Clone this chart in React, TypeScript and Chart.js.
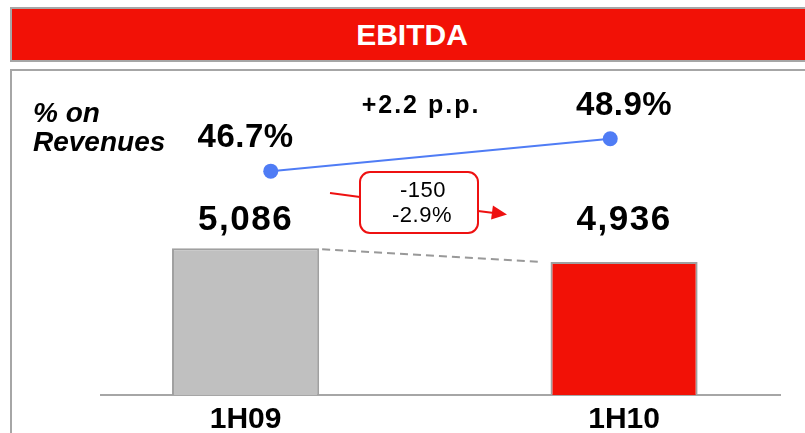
import React, { useEffect, useRef } from 'react';
import { Chart, registerables } from 'chart.js';

Chart.register(...registerables);

// ---- data ----
const categories = ['1H09', '1H10'];
const ebitda = [5086, 4936];
const marginPct = [46.7, 48.9];
const barFill = ['#C0C0C0', '#F21106'];
const barEdge = ['#A0A0A0', '#A0A0A0'];
const titleText = 'EBITDA';
const sideLabel = ['% on', 'Revenues'];

const ebitdaLabels = ebitda.map((v) => v.toLocaleString('en-US'));
const pctLabels = marginPct.map((v) => v.toFixed(1) + '%');
const deltaAbs = ebitda[1] - ebitda[0];
const deltaAbsLabel = String(deltaAbs);
const deltaPctLabel = ((deltaAbs / ebitda[0]) * 100).toFixed(1) + '%';
const ppDelta = marginPct[1] - marginPct[0];
const ppLabel = (ppDelta >= 0 ? '+' : '') + ppDelta.toFixed(1) + ' p.p.';

const FONT = "'Liberation Sans', Arial, Helvetica, sans-serif";
const RED = '#F21106';
const BLUE = '#4F7CF5';

const overlayPlugin = {
  id: 'overlay',
  afterDatasetsDraw(chart: any) {
    const ctx: CanvasRenderingContext2D = chart.ctx;
    const bars = chart.getDatasetMeta(0).data;
    const pts = chart.getDatasetMeta(1).data;
    ctx.save();

    // dashed connector between bar tops
    const b0 = bars[0].getProps(['x', 'y', 'width'], true);
    const b1 = bars[1].getProps(['x', 'y', 'width'], true);
    ctx.setLineDash([8, 5]);
    ctx.strokeStyle = '#999999';
    ctx.lineWidth = 2;
    ctx.beginPath();
    ctx.moveTo(b0.x + b0.width / 2 + 3, b0.y + 1);
    ctx.lineTo(b1.x - b1.width / 2 - 8, b1.y);
    ctx.stroke();
    ctx.setLineDash([]);

    ctx.fillStyle = '#000';
    ctx.textAlign = 'center';
    ctx.textBaseline = 'middle';

    // bar value labels (on a common row above the tallest bar)
    (ctx as any).letterSpacing = '1.5px';
    ctx.font = `bold 35px ${FONT}`;
    const labelRow = Math.min(b0.y, b1.y) - 27.5;
    bars.forEach((b: any, i: number) => {
      ctx.fillText(ebitdaLabels[i], b.x, labelRow);
    });

    // margin labels
    (ctx as any).letterSpacing = '0.5px';
    ctx.font = `bold 33px ${FONT}`;
    pts.forEach((p: any, i: number) => {
      ctx.fillText(pctLabels[i], bars[i].x, p.y - 33);
    });

    // p.p. change
    (ctx as any).letterSpacing = '2px';
    ctx.font = `bold 25px ${FONT}`;
    ctx.fillText(ppLabel, 421, 106);

    // side label
    (ctx as any).letterSpacing = '0px';
    ctx.textAlign = 'left';
    ctx.textBaseline = 'alphabetic';
    ctx.font = `italic bold 28px ${FONT}`;
    ctx.fillText(sideLabel[0], 33, 122);
    ctx.fillText(sideLabel[1], 33, 151);

    // change box with arrow
    ctx.strokeStyle = '#EE1111';
    ctx.fillStyle = '#EE1111';
    ctx.lineWidth = 2;
    ctx.beginPath();
    ctx.moveTo(330, 193);
    ctx.lineTo(360, 197);
    ctx.stroke();
    ctx.beginPath();
    ctx.moveTo(478, 211);
    ctx.lineTo(494, 213);
    ctx.stroke();
    const tipX = 507, tipY = 214.5, baseX = 492, baseY = 212.5;
    const dx = tipX - baseX, dy = tipY - baseY;
    const len = Math.hypot(dx, dy);
    const nx = -dy / len, ny = dx / len;
    ctx.beginPath();
    ctx.moveTo(tipX, tipY);
    ctx.lineTo(baseX + nx * 7, baseY + ny * 7);
    ctx.lineTo(baseX - nx * 7, baseY - ny * 7);
    ctx.closePath();
    ctx.fill();

    ctx.beginPath();
    (ctx as any).roundRect(360, 172, 118, 61, 10);
    ctx.fillStyle = '#FFFFFF';
    ctx.fill();
    ctx.stroke();

    ctx.fillStyle = '#000';
    ctx.textAlign = 'center';
    ctx.textBaseline = 'middle';
    (ctx as any).letterSpacing = '0.5px';
    ctx.font = `22px ${FONT}`;
    ctx.fillText(deltaAbsLabel, 423, 191);
    ctx.fillText(deltaPctLabel, 422, 216);

    ctx.restore();
  },
};

export default function App() {
  const canvasRef = useRef<HTMLCanvasElement | null>(null);

  useEffect(() => {
    const canvas = canvasRef.current;
    if (!canvas) return;
    const chart = new Chart(canvas, {
      type: 'bar',
      data: {
        datasets: [
          {
            type: 'bar',
            label: 'EBITDA',
            data: categories.map((_, i) => ({ x: i, y: ebitda[i] })) as any,
            backgroundColor: barFill,
            borderColor: barEdge,
            borderWidth: 2,
            grouped: false,
            categoryPercentage: 1,
            barPercentage: 0.3887,
            xAxisID: 'x',
            yAxisID: 'y',
            order: 2,
          } as any,
          {
            type: 'line',
            label: '% on Revenues',
            data: marginPct,
            borderColor: BLUE,
            backgroundColor: BLUE,
            borderWidth: 2,
            pointRadius: 7.5,
            pointBorderWidth: 0,
            pointBackgroundColor: BLUE,
            xAxisID: 'x2',
            yAxisID: 'y2',
            order: 1,
          } as any,
        ],
      },
      options: {
        responsive: false,
        animation: false,
        devicePixelRatio: 1,
        layout: { padding: { left: 101, right: 25, top: 71, bottom: 0 } },
        plugins: {
          legend: { display: false },
          tooltip: { enabled: false },
          title: { display: false },
        },
        scales: {
          x: {
            type: 'linear',
            min: -0.382,
            max: 1.412,
            offset: false,
            afterBuildTicks: (s: any) => {
              s.ticks = categories.map((_, i) => ({ value: i }));
            },
            afterFit: (s: any) => {
              s.height = 38;
            },
            ticks: {
              autoSkip: false,
              maxRotation: 0,
              padding: 7,
              color: '#000',
              font: { family: FONT, size: 30, weight: 'bold' },
              callback: (v: any) => categories[Math.round(Number(v))] ?? '',
            },
            grid: { display: false, drawTicks: false, offset: false },
            border: { display: true, color: '#A6A6A6', width: 2 },
          } as any,
          x2: {
            type: 'category',
            labels: categories,
            offset: true,
            display: false,
          },
          y: { type: 'linear', min: 3500, max: 7000, display: false },
          y2: { type: 'linear', min: 31.5, max: 53.5, display: false },
        },
      },
      plugins: [overlayPlugin],
    });
    return () => chart.destroy();
  }, []);

  return (
    <div
      style={{
        position: 'absolute',
        left: 0,
        top: 0,
        width: 805,
        height: 433,
        overflow: 'hidden',
        background: '#FFFFFF',
      }}
    >
      <div
        style={{
          position: 'absolute',
          left: 10,
          top: 7,
          width: 800,
          height: 55,
          boxSizing: 'border-box',
          border: '2px solid #A6A6A6',
          background: RED,
          color: '#FFFFFF',
          display: 'flex',
          alignItems: 'center',
          justifyContent: 'center',
          paddingLeft: 4,
          fontFamily: FONT,
          fontWeight: 'bold',
          fontSize: 30,
        }}
      >
        {titleText}
      </div>
      <div
        style={{
          position: 'absolute',
          left: 10,
          top: 69,
          width: 800,
          height: 380,
          boxSizing: 'border-box',
          border: '2px solid #A6A6A6',
          background: '#FFFFFF',
        }}
      />
      <canvas
        ref={canvasRef}
        width={805}
        height={433}
        style={{ position: 'absolute', left: 0, top: 0, width: 805, height: 433 }}
      />
    </div>
  );
}
